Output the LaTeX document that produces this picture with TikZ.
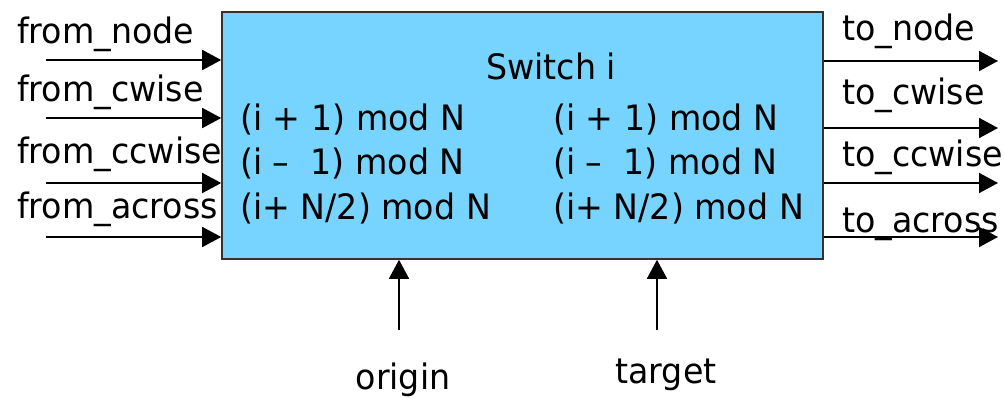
\documentclass[tikz,border=0pt]{standalone}
\usepackage{fontspec}
\setmainfont{DejaVu Sans}[FakeStretch=0.95]
\usetikzlibrary{arrows.meta}
\definecolor{boxblue}{HTML}{77D4FE}
\definecolor{edge}{HTML}{333333}
\tikzset{
  lbl/.style={anchor=base west, inner sep=0pt, font=\fontsize{35}{42}\selectfont},
  arr/.style={line width=1.7pt, -{Triangle[length=19pt,width=20pt]}},
  swbox/.style={draw=edge, line width=1.6pt, fill=boxblue, minimum width=601pt, minimum height=247pt, inner sep=0pt}
}
\begin{document}
\begin{tikzpicture}[x=1pt,y=-1pt]
\useasboundingbox (0,0) rectangle (1005,397);
\node[swbox] (sw) at (522.5,135.5) {};
% box texts
\node[lbl, anchor=base] (title) at (551,79) {Switch i};
\node[lbl] (l1) at (240,130) {(i + 1) mod N};
\node[lbl] (l2) at (240,174) {(i –\ \ 1) mod N};
\node[lbl] (l3) at (240,219) {(i+ N/2) mod N};
\node[lbl] (r1) at (553,130) {(i + 1) mod N};
\node[lbl] (r2) at (553,174) {(i –\ \ 1) mod N};
\node[lbl] (r3) at (553,219) {(i+ N/2) mod N};
% left labels
\node[lbl] (fnode) at (17,43) {from\_node};
\node[lbl] (fcw) at (17,101) {from\_cwise};
\node[lbl] (fccw) at (17,163) {from\_ccwise};
\node[lbl] (facr) at (17,218) {from\_across};
% right labels
\node[lbl] (tnode) at (842,40) {to\_node};
\node[lbl] (tcw) at (842,104) {to\_cwise};
\node[lbl] (tccw) at (842,166) {to\_ccwise};
\node[lbl] (tacr) at (842,232) {to\_across};
% bottom labels
\node[lbl, anchor=base] (orig) at (403,389) {origin};
\node[lbl, anchor=base] (targ) at (666,383) {target};
% connector end points
\coordinate (i1) at (46,60);
\coordinate (i2) at (46,118);
\coordinate (i3) at (46,183);
\coordinate (i4) at (46,237);
\coordinate (o1) at (998,61);
\coordinate (o2) at (998,128);
\coordinate (o3) at (998,183);
\coordinate (o4) at (998,237);
\coordinate (b1) at (399,330);
\coordinate (b2) at (657,330);
\draw[arr] (i1) -- (i1 -| sw.west);
\draw[arr] (i2) -- (i2 -| sw.west);
\draw[arr] (i3) -- (i3 -| sw.west);
\draw[arr] (i4) -- (i4 -| sw.west);
\draw[arr] (o1 -| sw.east) -- (o1);
\draw[arr] (o2 -| sw.east) -- (o2);
\draw[arr] (o3 -| sw.east) -- (o3);
\draw[arr] (o4 -| sw.east) -- (o4);
\draw[arr] (b1) -- (b1 |- sw.south);
\draw[arr] (b2) -- (b2 |- sw.south);
\end{tikzpicture}
\end{document}
